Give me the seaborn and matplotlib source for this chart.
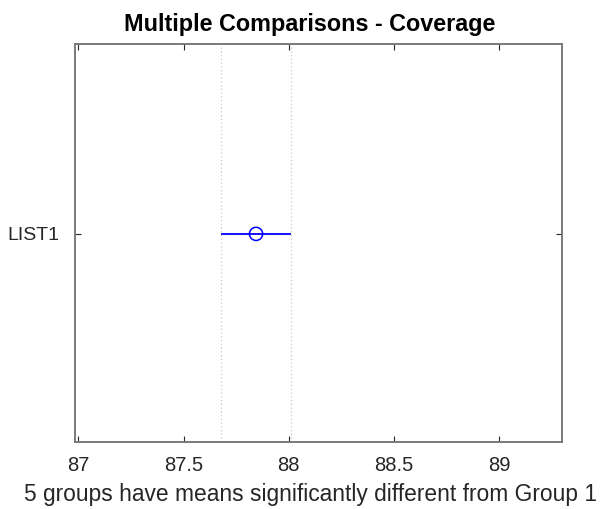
import matplotlib
matplotlib.use("Agg")
import matplotlib.pyplot as plt
import seaborn as sns
import pandas as pd

# Group estimate and its comparison interval
groups = ["LIST1"]
means = [87.845]
lower = [87.678]
upper = [88.012]

# Axis settings
x_ticks = [87, 87.5, 88, 88.5, 89]
x_tick_labels = ["87", "87.5", "88", "88.5", "89"]

sns.set_theme(style="white")
plt.rcParams["font.family"] = ["Liberation Sans", "DejaVu Sans"]

df = pd.DataFrame({"group": groups, "mean": means, "lo": lower, "hi": upper})
df["pos"] = range(1, len(groups) + 1)

fig = plt.figure(figsize=(6.03, 5.09), dpi=100)
ax = fig.add_axes([0.1244, 0.1316, 0.8076, 0.782])

# reference lines at the interval limits of the first group
for v in (df["lo"].iloc[0], df["hi"].iloc[0]):
    ax.axvline(v, color="#c8c8c8", linestyle=(0, (1, 2)), linewidth=0.9, zorder=0)

ax.hlines(df["pos"], df["lo"], df["hi"], color="#0000ff", linewidth=1.3, zorder=2)
sns.scatterplot(data=df, x="mean", y="pos", ax=ax, marker="o", s=90,
                facecolors="none", edgecolor="#0000ff", linewidth=1.1, zorder=3,
                legend=False)

ax.set_xlim(86.984, 89.30)
ax.set_ylim(1.548, 0.5)
ax.set_yticks(df["pos"])
ax.set_yticklabels(df["group"])
ax.set_xticks(x_ticks)
ax.set_xticklabels(x_tick_labels)

ax.tick_params(axis="both", direction="in", length=4, width=0.8, color="#262626",
               labelsize=14.5, labelcolor="#262626", top=True, right=True,
               bottom=True, left=True)
ax.tick_params(axis="x", pad=10)
ax.tick_params(axis="y", pad=11, labelsize=14)
for s in ax.spines.values():
    s.set_color("#7a7a7a")
    s.set_linewidth(1.4)

ax.set_xlabel("5 groups have means significantly different from Group 1",
              fontsize=16.4, color="#262626", labelpad=6)
ax.xaxis.label.set_x(0.484)
ax.set_ylabel("")
ax.set_title("Multiple Comparisons - Coverage", fontsize=16.8, fontweight="bold",
             color="#000000", pad=9, x=0.4825)
ax.set_facecolor("white")

fig.savefig("out.png", dpi=100, facecolor="white")
